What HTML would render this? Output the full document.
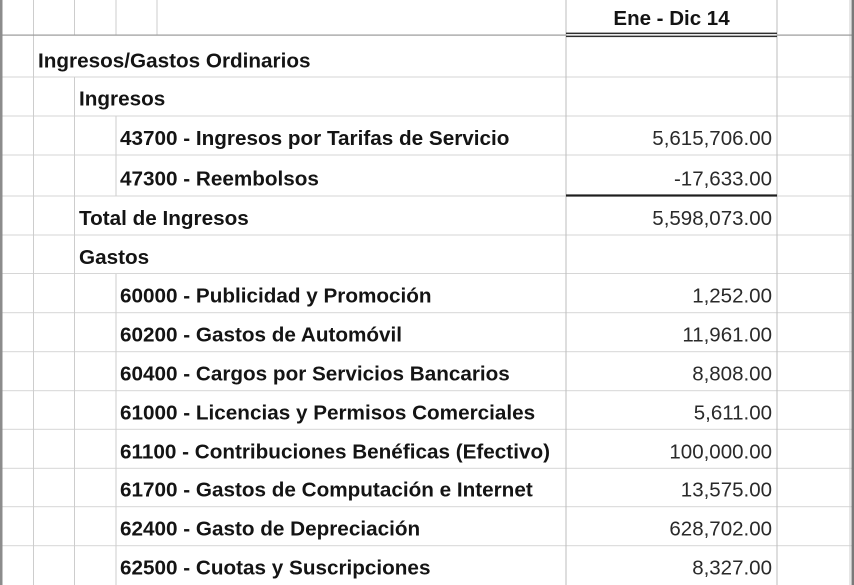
<!DOCTYPE html>
<html>
<head>
<meta charset="utf-8">
<style>
  html,body{margin:0;padding:0;background:#fff;}
  body{width:854px;height:585px;overflow:hidden;}
  svg{display:block;}
  .lb{font-family:"Liberation Sans",Arial,sans-serif;font-size:20.7px;font-weight:bold;fill:#141414;}
  .hd{font-family:"Liberation Sans",Arial,sans-serif;font-size:20.5px;font-weight:bold;fill:#141414;}
  .vl{font-family:"Liberation Sans",Arial,sans-serif;font-size:20.5px;fill:#2a2a2a;}
</style>
</head>
<body>
<svg width="854" height="585" viewBox="0 0 854 585" xmlns="http://www.w3.org/2000/svg">
  <rect x="0" y="0" width="854" height="585" fill="#fff"/>

  <!-- horizontal light grid lines -->
  <g fill="#d6d6d6">
    <rect x="2" y="76.5" width="850" height="1"/>
    <rect x="2" y="115.5" width="850" height="1"/>
    <rect x="2" y="154.5" width="850" height="1"/>
    <rect x="2" y="195.5" width="850" height="1"/>
    <rect x="2" y="234.5" width="850" height="1"/>
    <rect x="2" y="273" width="850" height="1"/>
    <rect x="2" y="312.2" width="850" height="1"/>
    <rect x="2" y="351.2" width="850" height="1"/>
    <rect x="2" y="390.2" width="850" height="1"/>
    <rect x="2" y="428.8" width="850" height="1"/>
    <rect x="2" y="467.8" width="850" height="1"/>
    <rect x="2" y="506.2" width="850" height="1"/>
    <rect x="2" y="545.2" width="850" height="1"/>
  </g>

  <!-- vertical grid lines -->
  <g fill="#cdcdcd">
    <rect x="33" y="0" width="1" height="585"/>
    <rect x="74" y="0" width="1" height="35"/>
    <rect x="74" y="77" width="1" height="508"/>
    <rect x="115.5" y="0" width="1" height="35"/>
    <rect x="115.5" y="116" width="1" height="80"/>
    <rect x="115.5" y="274" width="1" height="311"/>
    <rect x="156.5" y="0" width="1" height="35"/>
    <rect x="565.5" y="0" width="1" height="585" fill="#bdbdbd"/>
    <rect x="776.5" y="0" width="1" height="585" fill="#bdbdbd"/>
    <rect x="849.5" y="0" width="1" height="585"/>
  </g>

  <!-- header bottom line -->
  <rect x="2" y="34.5" width="564" height="1.2" fill="#9a9a9a"/>
  <rect x="777" y="34.5" width="75" height="1.2" fill="#9a9a9a"/>
  <!-- double line under header in value column -->
  <rect x="566" y="32.6" width="211" height="1.5" fill="#2e2e2e"/>
  <rect x="566" y="35.6" width="211" height="1.5" fill="#2e2e2e"/>
  <!-- thick line under -17,633.00 -->
  <rect x="566" y="194.4" width="211" height="2.2" fill="#1e1e1e"/>

  <!-- outer dark borders -->
  <rect x="0" y="0" width="2.5" height="585" fill="#8c8c8c"/>
  <rect x="851.5" y="0" width="2.5" height="585" fill="#7a7a7a"/>

  <!-- header -->
  <text class="hd" x="671.5" y="25" text-anchor="middle">Ene - Dic 14</text>

  <!-- labels -->
  <text class="lb" x="38" y="67.3">Ingresos/Gastos Ordinarios</text>
  <text class="lb" x="79" y="105.5">Ingresos</text>
  <text class="lb" x="120" y="145">43700 - Ingresos por Tarifas de Servicio</text>
  <text class="lb" x="120" y="185.5">47300 - Reembolsos</text>
  <text class="lb" x="79" y="225">Total de Ingresos</text>
  <text class="lb" x="79" y="264">Gastos</text>
  <text class="lb" x="120" y="302.5">60000 - Publicidad y Promoción</text>
  <text class="lb" x="120" y="341.5">60200 - Gastos de Automóvil</text>
  <text class="lb" x="120" y="380.5">60400 - Cargos por Servicios Bancarios</text>
  <text class="lb" x="120" y="419.3">61000 - Licencias y Permisos Comerciales</text>
  <text class="lb" x="120" y="458.3">61100 - Contribuciones Benéficas (Efectivo)</text>
  <text class="lb" x="120" y="496.7">61700 - Gastos de Computación e Internet</text>
  <text class="lb" x="120" y="535.7">62400 - Gasto de Depreciación</text>
  <text class="lb" x="120" y="574.5">62500 - Cuotas y Suscripciones</text>

  <!-- values -->
  <text class="vl" x="772" y="145" text-anchor="end">5,615,706.00</text>
  <text class="vl" x="772" y="185.5" text-anchor="end">-17,633.00</text>
  <text class="vl" x="772" y="225" text-anchor="end">5,598,073.00</text>
  <text class="vl" x="772" y="302.5" text-anchor="end">1,252.00</text>
  <text class="vl" x="772" y="341.5" text-anchor="end">11,961.00</text>
  <text class="vl" x="772" y="380.5" text-anchor="end">8,808.00</text>
  <text class="vl" x="772" y="419.3" text-anchor="end">5,611.00</text>
  <text class="vl" x="772" y="458.3" text-anchor="end">100,000.00</text>
  <text class="vl" x="772" y="496.7" text-anchor="end">13,575.00</text>
  <text class="vl" x="772" y="535.7" text-anchor="end">628,702.00</text>
  <text class="vl" x="772" y="574.5" text-anchor="end">8,327.00</text>
</svg>
</body>
</html>
